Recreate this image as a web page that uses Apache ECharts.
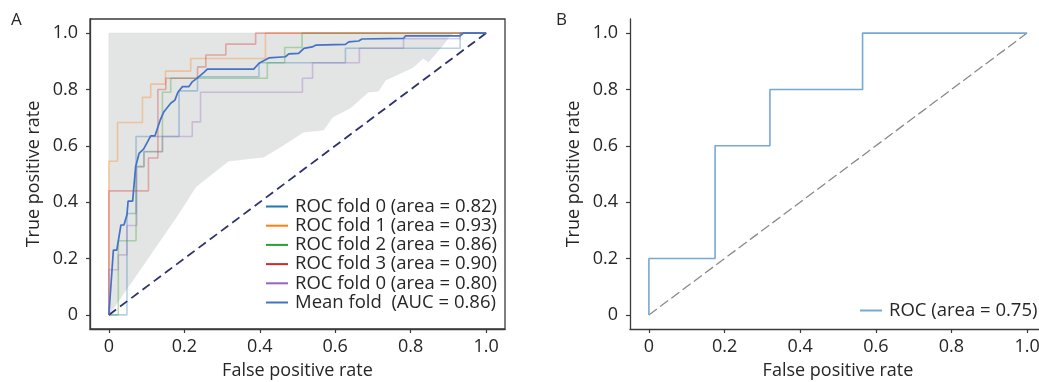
<!DOCTYPE html>
<html>
<head>
<meta charset="utf-8">
<script src="https://cdn.jsdelivr.net/npm/echarts@6/dist/echarts.min.js"></script>
<style>
html,body{margin:0;padding:0;background:#fff;}
#c{width:1039px;height:382px;}
</style>
</head>
<body>
<div id="c"></div>
<script>
// ---------- DATA ----------
const tickValues = [0, 0.2, 0.4, 0.6, 0.8, 1.0];

const fold0X = [0, 0.048, 0.048, 0.072, 0.072, 0.186, 0.186, 0.235, 0.235, 0.398, 0.398, 0.627, 0.627, 0.931, 0.931, 1];
const fold0Y = [0, 0, 0.36, 0.36, 0.633, 0.633, 0.795, 0.795, 0.845, 0.845, 0.895, 0.895, 0.946, 0.946, 1, 1];

const fold1X = [0, 0, 0.023, 0.023, 0.089, 0.089, 0.111, 0.111, 0.150, 0.150, 0.217, 0.217, 0.415, 0.415, 1];
const fold1Y = [0, 0.545, 0.545, 0.683, 0.683, 0.772, 0.772, 0.819, 0.819, 0.865, 0.865, 0.910, 0.910, 1, 1];

const fold2X = [0, 0.025, 0.025, 0.072, 0.072, 0.093, 0.093, 0.142, 0.142, 0.164, 0.164, 0.420, 0.420, 0.466, 0.466, 0.512, 0.512, 1];
const fold2Y = [0, 0, 0.263, 0.263, 0.526, 0.526, 0.579, 0.579, 0.790, 0.790, 0.840, 0.840, 0.895, 0.895, 0.949, 0.949, 1, 1];

const fold3X = [0, 0, 0.105, 0.105, 0.130, 0.130, 0.151, 0.151, 0.235, 0.235, 0.257, 0.257, 0.310, 0.310, 0.389, 0.389, 1];
const fold3Y = [0, 0.44, 0.44, 0.557, 0.557, 0.80, 0.80, 0.84, 0.84, 0.88, 0.88, 0.922, 0.922, 0.961, 0.961, 1, 1];

const fold4X = [0, 0, 0.025, 0.025, 0.048, 0.048, 0.074, 0.074, 0.093, 0.093, 0.142, 0.142, 0.221, 0.221, 0.243, 0.243, 0.513, 0.513, 0.540, 0.540, 0.664, 0.664, 0.781, 0.781, 0.931, 0.931, 1];
const fold4Y = [0, 0.16, 0.16, 0.213, 0.213, 0.317, 0.317, 0.526, 0.526, 0.58, 0.58, 0.633, 0.633, 0.685, 0.685, 0.79, 0.79, 0.84, 0.84, 0.895, 0.895, 0.946, 0.946, 0.98, 0.98, 1, 1];

const meanX = [0, 0.012, 0.021, 0.032, 0.040, 0.048, 0.051, 0.063, 0.071, 0.080, 0.092, 0.111, 0.122, 0.136, 0.146, 0.164, 0.175, 0.183, 0.195, 0.212, 0.221, 0.235, 0.252, 0.261, 0.310, 0.384, 0.398, 0.424, 0.468, 0.477, 0.503, 0.517, 0.539, 0.548, 0.627, 0.636, 0.662, 0.671, 0.781, 0.786, 0.931, 0.940, 1.0];
const meanY = [0, 0.23, 0.23, 0.319, 0.319, 0.355, 0.404, 0.404, 0.526, 0.573, 0.588, 0.635, 0.635, 0.691, 0.721, 0.751, 0.762, 0.790, 0.810, 0.810, 0.827, 0.841, 0.861, 0.872, 0.872, 0.872, 0.893, 0.912, 0.916, 0.926, 0.928, 0.946, 0.951, 0.957, 0.960, 0.969, 0.972, 0.979, 0.981, 0.990, 0.990, 1.0, 1.0];

const bandLowerX = [0, 0.183, 0.230, 0.317, 0.410, 0.455, 0.516, 0.569, 0.593, 0.640, 0.688, 0.714, 0.733, 0.807, 0.833, 0.847, 0.870, 0.886, 0.899, 0.913, 1.0];
const bandLowerY = [0, 0.355, 0.454, 0.546, 0.560, 0.596, 0.649, 0.656, 0.702, 0.734, 0.791, 0.794, 0.833, 0.879, 0.911, 0.897, 0.933, 0.957, 0.982, 1.0, 1.0];
const bandUpperY = 1.0;

const chanceX = [0, 1];
const chanceY = [0, 1];

const rocBX = [0, 0, 0.175, 0.175, 0.32, 0.32, 0.565, 0.565, 1];
const rocBY = [0, 0.2, 0.2, 0.6, 0.6, 0.8, 0.8, 1, 1];

const legendA = ['ROC fold 0 (area = 0.82)', 'ROC fold 1 (area = 0.93)', 'ROC fold 2 (area = 0.86)',
                 'ROC fold 3 (area = 0.90)', 'ROC fold 0 (area = 0.80)', 'Mean fold  (AUC = 0.86)'];
const legendB = ['ROC (area = 0.75)'];
const foldColors = ['#1f77b4', '#ff7f0e', '#2ca02c', '#d62728', '#9467bd'];
const meanColor = '#4472c4';
const rocBColor = '#74a9d6';

// ---------- BUILD ----------
const zip = (xs, ys) => xs.map((x, i) => [x, ys[i]]);
const FONT = 'Open Sans';
const FS = 18;
const TXT = '#262626';
const AX = '#3a3a3a';

function makeX(idx) {
  return {
    type: 'value', gridIndex: idx, min: -0.05, max: 1.05,
    name: 'False positive rate', nameLocation: 'middle', nameGap: 33,
    nameTextStyle: { fontFamily: FONT, fontSize: FS, color: TXT },
    axisLine: { show: true, onZero: false, lineStyle: { color: AX, width: 1.3 } },
    axisTick: { show: true, length: 4, customValues: tickValues, lineStyle: { color: AX, width: 1.2 } },
    axisLabel: { customValues: tickValues, margin: 9, fontFamily: FONT, fontSize: FS, color: TXT,
                 formatter: v => (Math.abs(v) < 1e-9 ? '0' : v.toFixed(1)) },
    splitLine: { show: false }
  };
}
function makeY(idx) {
  return {
    type: 'value', gridIndex: idx, min: -0.05, max: 1.05,
    name: 'True positive rate', nameLocation: 'middle', nameGap: 47,
    nameTextStyle: { fontFamily: FONT, fontSize: FS, color: TXT },
    axisLine: { show: true, onZero: false, lineStyle: { color: AX, width: 1.3 } },
    axisTick: { show: true, length: 4, customValues: tickValues, lineStyle: { color: AX, width: 1.2 } },
    axisLabel: { customValues: tickValues, margin: 12, fontFamily: FONT, fontSize: FS, color: TXT,
                 formatter: v => (Math.abs(v) < 1e-9 ? '0' : v.toFixed(1)) },
    splitLine: { show: false }
  };
}

const foldXs = [fold0X, fold1X, fold2X, fold3X, fold4X];
const foldYs = [fold0Y, fold1Y, fold2Y, fold3Y, fold4Y];

const series = [];
series.push({
  type: 'custom', xAxisIndex: 0, yAxisIndex: 0, silent: true, z: 1,
  data: [[0, 0]],
  renderItem: function (params, api) {
    const pts = [];
    pts.push(api.coord([0, 0]));
    pts.push(api.coord([0, bandUpperY]));
    pts.push(api.coord([1, bandUpperY]));
    for (let i = bandLowerX.length - 1; i >= 0; i--) pts.push(api.coord([bandLowerX[i], bandLowerY[i]]));
    return { type: 'polygon', shape: { points: pts }, style: { fill: '#e3e4e4', stroke: '#dcdddd', lineWidth: 0.5 } };
  }
});
for (let k = 0; k < 5; k++) {
  series.push({
    name: legendA[k], type: 'line', xAxisIndex: 0, yAxisIndex: 0, showSymbol: false, symbol: 'none', z: 3,
    data: zip(foldXs[k], foldYs[k]),
    color: foldColors[k],
    lineStyle: { color: foldColors[k], width: 1.6, opacity: 0.33 }
  });
}
series.push({
  name: legendA[5], type: 'line', xAxisIndex: 0, yAxisIndex: 0, showSymbol: false, symbol: 'none', z: 5,
  data: zip(meanX, meanY), color: meanColor,
  lineStyle: { color: meanColor, width: 1.7 }
});
series.push({
  type: 'line', xAxisIndex: 0, yAxisIndex: 0, showSymbol: false, symbol: 'none', z: 4, silent: true,
  data: zip(chanceX, chanceY),
  lineStyle: { color: '#2e3270', width: 1.8, type: [9, 5] }
});
series.push({
  type: 'line', xAxisIndex: 1, yAxisIndex: 1, showSymbol: false, symbol: 'none', z: 3, silent: true,
  data: zip(chanceX, chanceY),
  lineStyle: { color: '#8a8a8a', width: 1.3, type: [10, 4] }
});
series.push({
  name: legendB[0], type: 'line', xAxisIndex: 1, yAxisIndex: 1, showSymbol: false, symbol: 'none', z: 4,
  data: zip(rocBX, rocBY), color: rocBColor,
  lineStyle: { color: rocBColor, width: 1.6 }
});

const legendColorsA = foldColors.concat([meanColor]);
const option = {
  animation: false,
  backgroundColor: '#ffffff',
  grid: [
    { left: 90, top: 19, width: 415, height: 310, outerBoundsMode: 'none', containLabel: false,
      show: true, borderColor: AX, borderWidth: 1.3, backgroundColor: 'transparent' },
    { left: 630, top: 19, width: 416, height: 310, outerBoundsMode: 'none', containLabel: false }
  ],
  xAxis: [makeX(0), makeX(1)],
  yAxis: [makeY(0), makeY(1)],
  legend: [
    {
      orient: 'vertical', left: 261, top: 192, itemWidth: 22, itemHeight: 2, itemGap: 0.2, icon: 'rect',
      textStyle: { fontFamily: FONT, fontSize: 18.5, color: TXT, lineHeight: 18, padding: [0, 0, 0, 2] },
      data: legendA.map((n, i) => ({ name: n, itemStyle: { color: legendColorsA[i], opacity: 1 } })),
      selectedMode: false
    },
    {
      orient: 'vertical', left: 855, top: 296, itemWidth: 22, itemHeight: 2, icon: 'rect',
      textStyle: { fontFamily: FONT, fontSize: 18.5, color: TXT, lineHeight: 18, padding: [0, 0, 0, 2] },
      data: [{ name: legendB[0], itemStyle: { color: rocBColor, opacity: 1 } }],
      selectedMode: false
    }
  ],
  graphic: [
    { type: 'text', left: 11, top: 12, style: { text: 'A', fontFamily: FONT, fontSize: 17, fill: TXT } },
    { type: 'text', left: 556, top: 12, style: { text: 'B', fontFamily: FONT, fontSize: 17, fill: TXT } }
  ],
  series: series
};

const chart = echarts.init(document.getElementById('c'), null, { renderer: 'canvas' });
chart.setOption(option);
</script>
</body>
</html>
